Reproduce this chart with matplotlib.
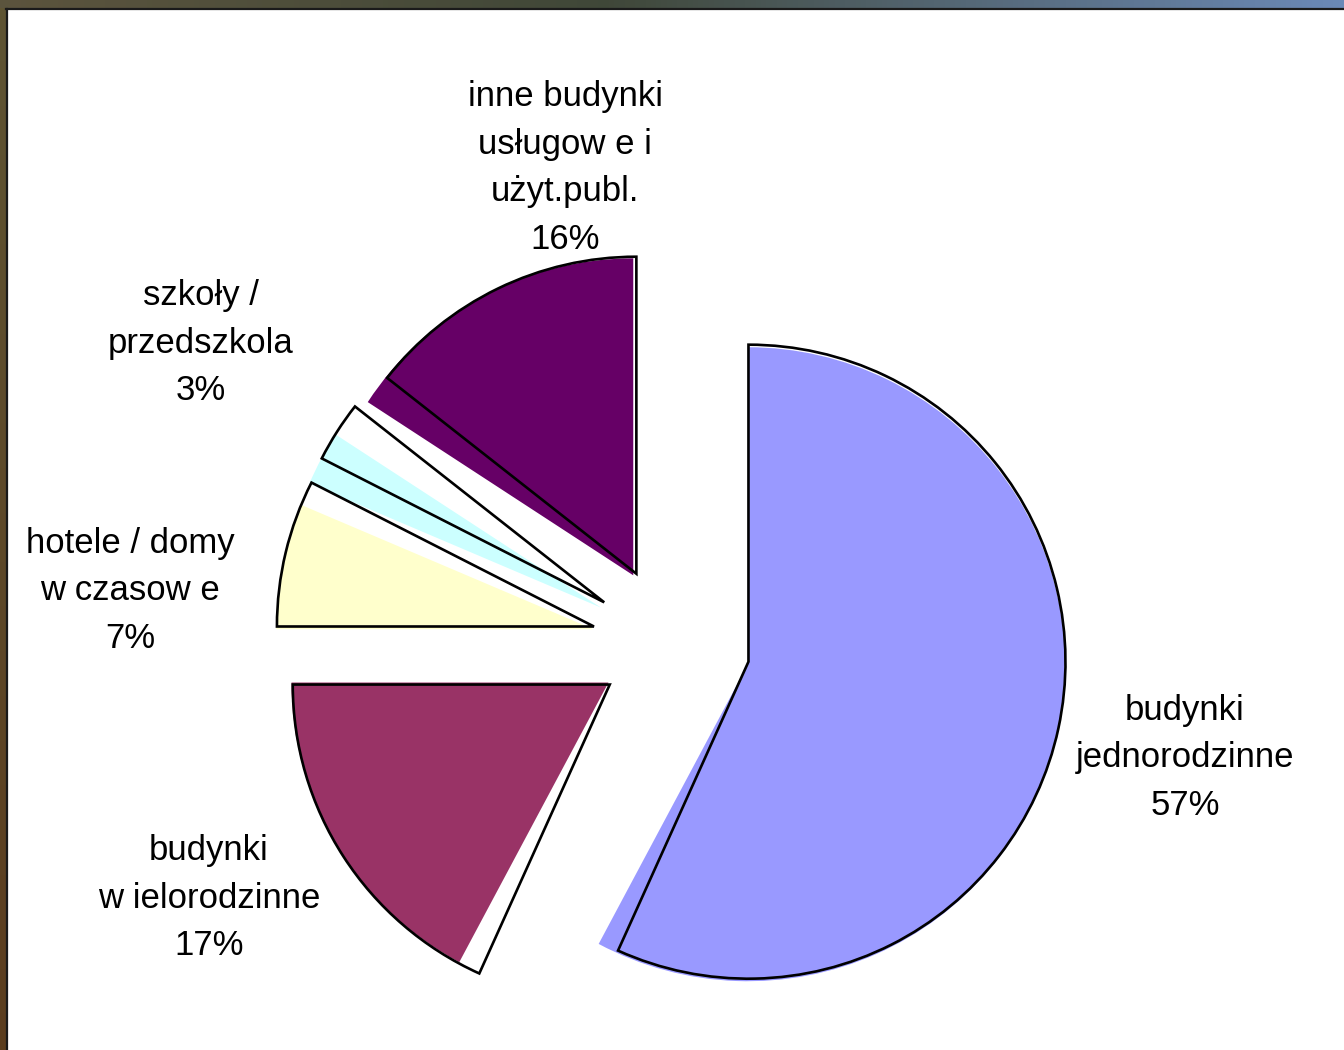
import numpy as np
import matplotlib
matplotlib.use("Agg")
import matplotlib.pyplot as plt

# categories and their shares (%)
labels = ["budynki\njednorodzinne", "budynki\nw ielorodzinne", "hotele / domy\nw czasow e",
          "szkoły /\nprzedszkola", "inne budynki\nusługow e i\nużyt.publ."]
pct = [57, 17, 7, 3, 16]
# the fill and the outline of each slice are drawn slightly out of step in the source
fill_share = [57.8, 17.2, 6.4, 2.8, 15.8]
outline_share = [56.75, 18.25, 7.5, 3.1, 14.4]
colors = ["#9999FF", "#993366", "#FFFFCC", "#CCFFFF", "#660066"]

# label centres in pixels
label_px = [(1185, 758), (209, 898), (130, 591), (201, 343), (565, 168)]

W, H = 1344, 1050
cx, cy, R = 671, 645, 317   # pie centre and radius in pixels

plt.rcParams['font.family'] = ['Liberation Sans', 'DejaVu Sans']

fig = plt.figure(figsize=(W / 100, H / 100), dpi=100)
ax = fig.add_axes([0, 0, 1, 1])
explode = [0.25, 0.23, 0.25, 0.25, 0.25]

ax.pie(fill_share, colors=colors, startangle=90, counterclock=False, explode=explode,
       wedgeprops=dict(linewidth=0, edgecolor='none'))
ax.pie(outline_share, colors=['none'] * 5, startangle=90, counterclock=False, explode=explode,
       wedgeprops=dict(linewidth=1.9, edgecolor='black', facecolor='none', joinstyle='miter'))

ax.set_aspect('auto')
ax.set_xlim(-cx / R, (W - cx) / R)
ax.set_ylim(-(H - cy) / R, cy / R)
ax.axis('off')

for lab, p, (px, py) in zip(labels, pct, label_px):
    ax.text((px - cx) / R, (cy - py) / R, f"{lab}\n{p}%", ha='center', va='center',
            fontsize=25, linespacing=1.56, color='black')

# frame of the slide screenshot: top and left strips
top = fig.add_axes([0, 1 - 8 / H, 1, 8 / H])
grad = np.linspace(0, 1, 256)
top_cols = np.array([[0.36, 0.33, 0.24], [0.25, 0.28, 0.22], [0.42, 0.54, 0.72]])
row = np.array([np.interp(grad, [0, 0.45, 1], top_cols[:, k]) for k in range(3)]).T
top.imshow(row[None, :, :], aspect='auto', extent=[0, 1, 0, 1])
top.axis('off')
fig.add_artist(plt.Line2D([6 / W, 1], [1 - 9 / H, 1 - 9 / H], color='#1a1a1a', lw=1.6))

left = fig.add_axes([0, 0, 6 / W, 1 - 8 / H])
left_cols = np.array([[0.37, 0.33, 0.20], [0.36, 0.24, 0.12]])
col = np.array([np.interp(grad, [0, 1], left_cols[:, k]) for k in range(3)]).T
left.imshow(col[:, None, :], aspect='auto', extent=[0, 1, 0, 1])
left.axis('off')
fig.add_artist(plt.Line2D([6.5 / W, 6.5 / W], [0, 1 - 9 / H], color='#1a1a1a', lw=1.6))

fig.savefig("out.png", dpi=100)
